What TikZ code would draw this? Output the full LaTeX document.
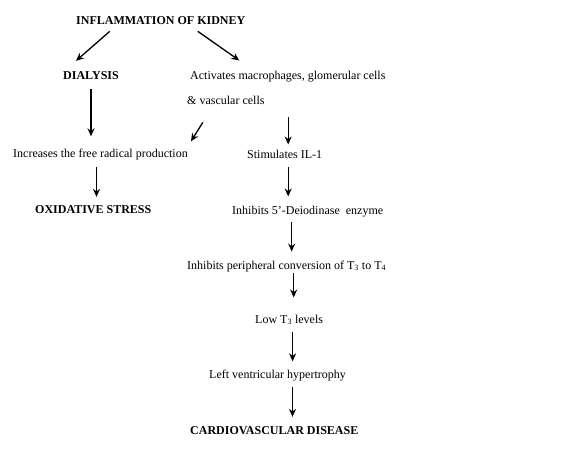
\documentclass[tikz,border=0pt]{standalone}
\usepackage{fontspec}
\setmainfont{Liberation Serif}
\usetikzlibrary{arrows.meta}

\begin{document}
\begin{tikzpicture}[x=1pt,y=-1pt,>={Stealth[length=8pt,width=7pt]},
  txt/.style={anchor=base west,inner sep=0pt,font=\fontsize{12}{14}\selectfont},
  head/.style={txt,font=\fontsize{12}{14}\selectfont\bfseries},
  flow/.style={->,line width=1.3pt}]
  \useasboundingbox[fill=white] (0,0) rectangle (561,461);
  % left branch
  \node[head] (kidney) at (76,24) {INFLAMMATION OF KIDNEY};
  \node[head] (dialysis) at (63,79) {DIALYSIS};
  \node[txt] (radical) at (13,157) {Increases the free radical production};
  \node[head] (oxid) at (35,213) {OXIDATIVE STRESS};
  % right branch
  \node[txt] (activate) at (190,79) {Activates macrophages, glomerular cells};
  \node[txt] (vascular) at (187,104.5) {\& vascular cells};
  \node[txt] (stimil) at (247,158) {Stimulates IL-1};
  \node[txt] (deiod) at (232,214) {Inhibits 5’-Deiodinase~~enzyme};
  \node[txt] (periph) at (187,269) {Inhibits peripheral conversion of T\textsubscript{3} to T\textsubscript{4}};
  \node[txt] (lowt) at (255,323) {Low T\textsubscript{3} levels};
  \node[txt] (lvh) at (209,378) {Left ventricular hypertrophy};
  \node[head] (cvd) at (190,434) {CARDIOVASCULAR DISEASE};
  % arrows
  \draw[flow] ([xshift=-51pt,yshift=-7pt]kidney.south) -- ([xshift=-15pt,yshift=10pt]dialysis.north);
  \draw[flow] ([xshift=37pt,yshift=-7pt]kidney.south) -- ([xshift=-48.5pt,yshift=10pt]activate.north);
  \draw[flow,shorten <=10pt,shorten >=12pt] (dialysis.south) -- (dialysis.south |- radical.north);
  \draw[flow] ([xshift=-23pt,yshift=-17.5pt]vascular.south) -- ([xshift=3pt,yshift=7pt]radical.north east);
  \draw[flow,shorten <=7pt,shorten >=8pt] ([xshift=-4pt]radical.south) -- ([xshift=-4pt]radical.south |- oxid.north);
  \draw[flow,shorten <=12.5pt,shorten >=5pt] ([xshift=3.5pt]stimil.north |- vascular.south) -- ([xshift=3.5pt]stimil.north);
  \draw[flow,shorten <=9pt,shorten >=9pt] ([xshift=3.5pt]stimil.south) -- ([xshift=3.5pt]stimil.south |- deiod.north);
  \draw[flow,shorten <=5.4pt,shorten >=8.8pt] ([xshift=-16pt]deiod.south) -- ([xshift=-16pt]deiod.south |- periph.north);
  \draw[flow,shorten <=1.5pt,shorten >=17pt] ([xshift=7pt]periph.south) -- ([xshift=7pt]periph.south |- lowt.north);
  \draw[flow,shorten <=7pt,shorten >=8pt] ([xshift=3.5pt]lowt.south) -- ([xshift=3.5pt]lowt.south |- lvh.north);
  \draw[flow,shorten <=6.4pt,shorten >=9pt] ([xshift=15pt]lvh.south) -- ([xshift=15pt]lvh.south |- cvd.north);
\end{tikzpicture}
\end{document}
